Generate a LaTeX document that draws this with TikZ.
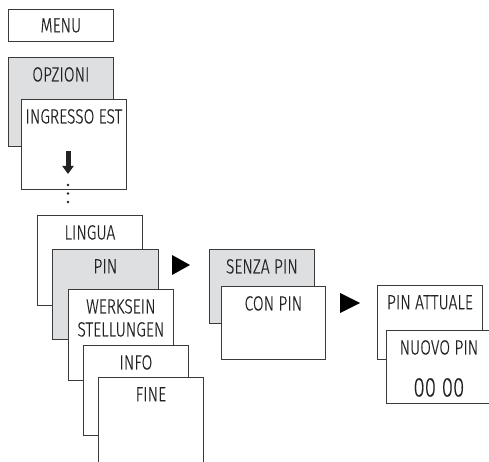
\documentclass[tikz,border=0pt]{standalone}
\usepackage{fontspec}
\setmainfont{Fira Sans}[UprightFont=* Light, FakeStretch=0.76, FakeBold=0.4]
\usepackage{xcolor}
\usetikzlibrary{arrows.meta}
\definecolor{linegray}{HTML}{3A3A3A}
\definecolor{panelgray}{HTML}{DEDFE1}
\definecolor{inkgray}{HTML}{222222}
\tikzset{
    panel/.style={draw=linegray, fill=white, line width=0.8pt, anchor=north west, minimum width=105pt, minimum height=90pt, inner sep=0pt},
    graypanel/.style={panel, fill=panelgray},
    title/.style={anchor=north, inner sep=0pt, yshift=-10pt, align=center, text=inkgray, font=\fontsize{20.5pt}{23pt}\selectfont},
    marker/.style={fill=black},
    bigarrow/.style={line width=5pt, draw=inkgray, -{Triangle[width=11pt, length=8pt]}}
}

\begin{document}
\begin{tikzpicture}[x=1pt, y=-1pt]
    \useasboundingbox (0,0) rectangle (489,462);

    % Top menu
    \node[panel, minimum height=32pt, font=\fontsize{20.5pt}{23pt}\selectfont, text=inkgray] (menu) at (8,9) {MENU};

    % Options and external input
    \node[graypanel, minimum height=89pt] (opzioni) at (8,57) {};
    \node[title] (opzionitext) at (opzioni.north) {OPZIONI};
    \node[panel] (ingresso) at (21,99) {};
    \node[title] (ingressotext) at (ingresso.north) {INGRESSO EST};

    % Arrow down and dots
    \coordinate (arrowtop) at (68,151);
    \coordinate (arrowtip) at (68,174);
    \draw[bigarrow] (arrowtop) -- (arrowtip);
    \foreach \y in {185, 193.5, 202}
        \fill[inkgray] (68,\y) circle (1.3pt);

    % Stack of submenus
    \node[panel] (lingua) at (37,215) {};
    \node[title] (linguatext) at (lingua.north) {LINGUA};
    \node[graypanel, minimum width=106pt] (pin) at (52,249) {};
    \node[title] (pintext) at (pin.north) {PIN};
    \node[panel, minimum height=91pt] (werksein) at (68,289) {};
    \node[title] (werkseintext) at (werksein.north) {WERKSEIN\\STELLUNGEN};
    \node[panel] (info) at (83,345) {};
    \node[title] (infotext) at (info.north) {INFO};
    \node[panel, minimum height=100pt] (fine) at (98,377) {};
    \node[title] (finetext) at (fine.north) {FINE};

    % Pin choice
    \fill[marker] (172,255) -- (190,265) -- (172,275) -- cycle;
    \node[graypanel, minimum height=74pt] (senza) at (209,249) {};
    \node[title] (senzatext) at (senza.north) {SENZA PIN};
    \node[panel, minimum width=104pt, minimum height=73pt] (con) at (221,286) {};
    \node[title] (context) at (con.north) {CON PIN};

    % Pin entry
    \fill[marker] (340,293) -- (360,303) -- (340,313) -- cycle;
    \node[panel, minimum height=74pt] (attuale) at (377,285) {};
    \node[title] (attualetext) at (attuale.north) {PIN ATTUALE};
    \node[panel, minimum height=73pt] (nuovo) at (386,330) {};
    \node[title] (nuovotext) at (nuovo.north) {NUOVO PIN};
    \node[title, yshift=-38pt, font=\fontsize{27pt}{30pt}\selectfont] (code) at (nuovo.north) {00 00};
\end{tikzpicture}
\end{document}
